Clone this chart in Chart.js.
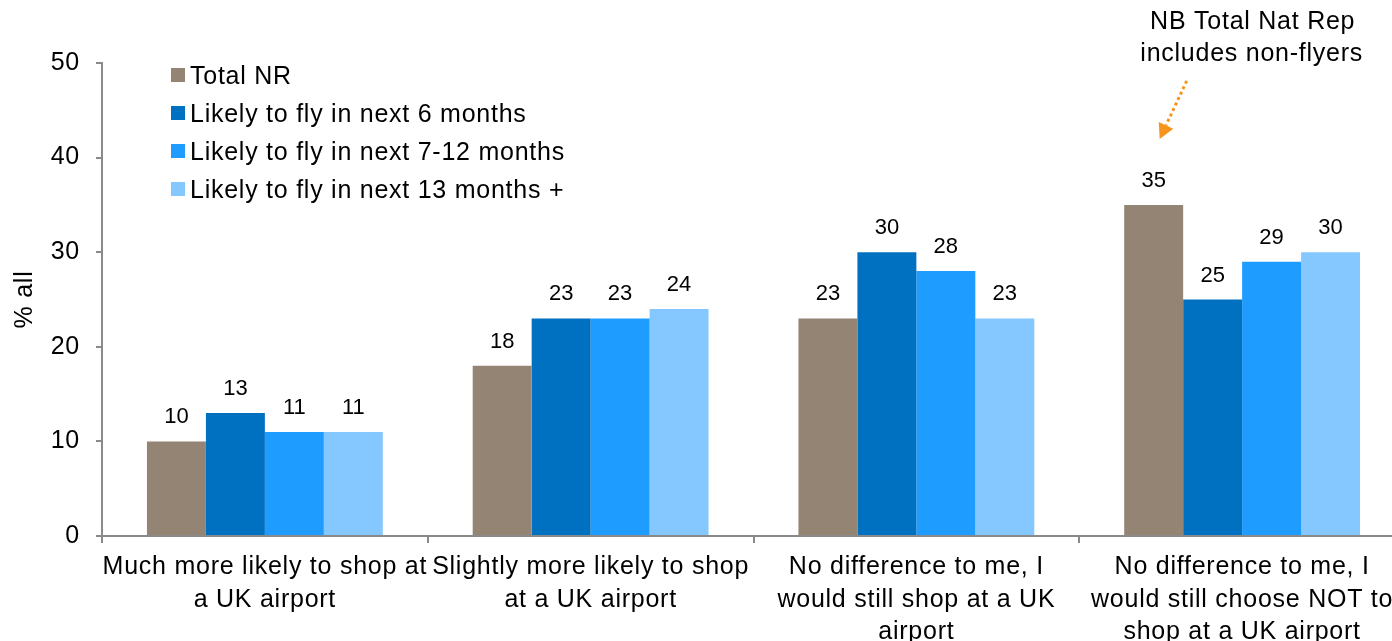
<!DOCTYPE html>
<html>
<head>
<meta charset="utf-8">
<script src="https://cdn.jsdelivr.net/npm/chart.js@4.4.1/dist/chart.umd.min.js"></script>
<style>
  html, body { margin: 0; padding: 0; background: #fff; overflow: hidden; width: 1392px; height: 641px; }
  canvas { display: block; }
</style>
</head>
<body>
<canvas id="chart" width="1410" height="641"></canvas>
<script>
const categories = [
  ["Much more likely to shop at", "a UK airport"],
  ["Slightly more likely to shop", "at a UK airport"],
  ["No difference to me, I", "would still shop at a UK", "airport"],
  ["No difference to me, I", "would still choose NOT to", "shop at a UK airport"]
];
const seriesNames = [
  "Total NR",
  "Likely to fly in next 6 months",
  "Likely to fly in next 7-12 months",
  "Likely to fly in next 13 months +"
];
const totalNR = [10, 18, 23, 35];
const fly6 = [13, 23, 30, 25];
const fly7to12 = [11, 23, 28, 29];
const fly13plus = [11, 24, 23, 30];
const yMin = 0;
const yMax = 50;
const yStep = 10;
const yTitle = "% all";
const noteLines = ["NB Total Nat Rep", "includes non-flyers"];

const colors = ["#948474", "#0070c0", "#1e9cff", "#85c8ff"];
const FONT = "'Liberation Sans', Arial, sans-serif";
const AXIS = "#8a8a8a";

// text in the source is a touch wider than Liberation Sans
const spacing = {
  id: "spacing",
  beforeUpdate(chart) { chart.ctx.letterSpacing = "0.75px"; },
  beforeDraw(chart) { chart.ctx.letterSpacing = "0.75px"; }
};

// value labels above each bar
const valueLabels = {
  id: "valueLabels",
  afterDatasetsDraw(chart) {
    const ctx = chart.ctx;
    ctx.save();
    ctx.letterSpacing = "0px";
    ctx.font = "22px " + FONT;
    ctx.fillStyle = "#000";
    ctx.textAlign = "center";
    ctx.textBaseline = "alphabetic";
    chart.data.datasets.forEach((ds, i) => {
      chart.getDatasetMeta(i).data.forEach((bar, j) => {
        ctx.fillText(ds.data[j], bar.x, bar.y - 18);
      });
    });
    ctx.restore();
  }
};

// legend drawn inside the plot, top-left
const boxLegend = {
  id: "boxLegend",
  afterDraw(chart) {
    const ctx = chart.ctx;
    const x0 = chart.chartArea.left + 69;
    const y0 = chart.chartArea.top + 12;
    ctx.save();
    ctx.font = "25px " + FONT;
    ctx.textBaseline = "middle";
    chart.data.datasets.forEach((ds, i) => {
      const y = y0 + i * 38;
      ctx.fillStyle = ds.backgroundColor;
      ctx.fillRect(x0, y - 7, 14, 14);
      ctx.fillStyle = "#000";
      ctx.fillText(ds.label, x0 + 19, y + 2);
    });
    ctx.restore();
  }
};

// note + dotted arrow pointing at the Total NR bar of the last group
const note = {
  id: "note",
  afterDraw(chart) {
    const bar = chart.getDatasetMeta(0).data[3];
    if (!bar) return;
    const ctx = chart.ctx;
    ctx.save();
    ctx.font = "25px " + FONT;
    ctx.fillStyle = "#000";
    ctx.textAlign = "center";
    ctx.fillText(noteLines[0], bar.x + 99, 29);
    ctx.fillText(noteLines[1], bar.x + 98, 61);

    const sx = bar.x + 33, sy = bar.y - 124;
    const tx = bar.x + 6, ty = bar.y - 66;
    ctx.strokeStyle = "#f7941d";
    ctx.fillStyle = "#f7941d";
    ctx.lineWidth = 3;
    ctx.setLineDash([3, 3]);
    const ang = Math.atan2(ty - sy, tx - sx);
    const headLen = 15;
    ctx.beginPath();
    ctx.moveTo(sx, sy);
    ctx.lineTo(tx - Math.cos(ang) * headLen, ty - Math.sin(ang) * headLen);
    ctx.stroke();
    ctx.setLineDash([]);
    ctx.beginPath();
    ctx.moveTo(tx, ty);
    ctx.lineTo(tx - Math.cos(ang) * headLen - Math.sin(ang) * 8, ty - Math.sin(ang) * headLen + Math.cos(ang) * 8);
    ctx.lineTo(tx - Math.cos(ang) * headLen + Math.sin(ang) * 8, ty - Math.sin(ang) * headLen - Math.cos(ang) * 8);
    ctx.closePath();
    ctx.fill();
    ctx.restore();
  }
};

const seriesData = [totalNR, fly6, fly7to12, fly13plus];

new Chart(document.getElementById("chart"), {
  type: "bar",
  data: {
    labels: categories,
    datasets: seriesData.map((d, i) => ({
      label: seriesNames[i],
      data: d,
      backgroundColor: colors[i],
      borderWidth: 0,
      categoryPercentage: 0.724,
      barPercentage: 1
    }))
  },
  options: {
    responsive: false,
    animation: false,
    layout: { padding: { top: 63, right: 5, left: 0, bottom: 0 } },
    plugins: {
      legend: { display: false },
      tooltip: { enabled: false }
    },
    scales: {
      x: {
        grid: { offset: true, drawOnChartArea: false, tickLength: 7, color: AXIS, lineWidth: 2 },
        border: { color: AXIS, width: 2 },
        ticks: {
          color: "#000",
          font: { family: FONT, size: 25, lineHeight: 1.3 },
          maxRotation: 0,
          autoSkip: false,
          padding: 8
        },
        afterFit(scale) { scale.height = 105; }
      },
      y: {
        min: yMin,
        max: yMax,
        grid: { drawOnChartArea: false, tickLength: 6, color: AXIS, lineWidth: 2 },
        border: { color: AXIS, width: 2 },
        ticks: {
          stepSize: yStep,
          color: "#000",
          font: { family: FONT, size: 25 },
          padding: 16
        },
        title: {
          display: true,
          text: yTitle,
          color: "#000",
          font: { family: FONT, size: 25 },
          padding: { top: 10, bottom: 0 }
        },
        afterFit(scale) { scale.width = 102; }
      }
    }
  },
  plugins: [spacing, valueLabels, boxLegend, note]
});
</script>
</body>
</html>
